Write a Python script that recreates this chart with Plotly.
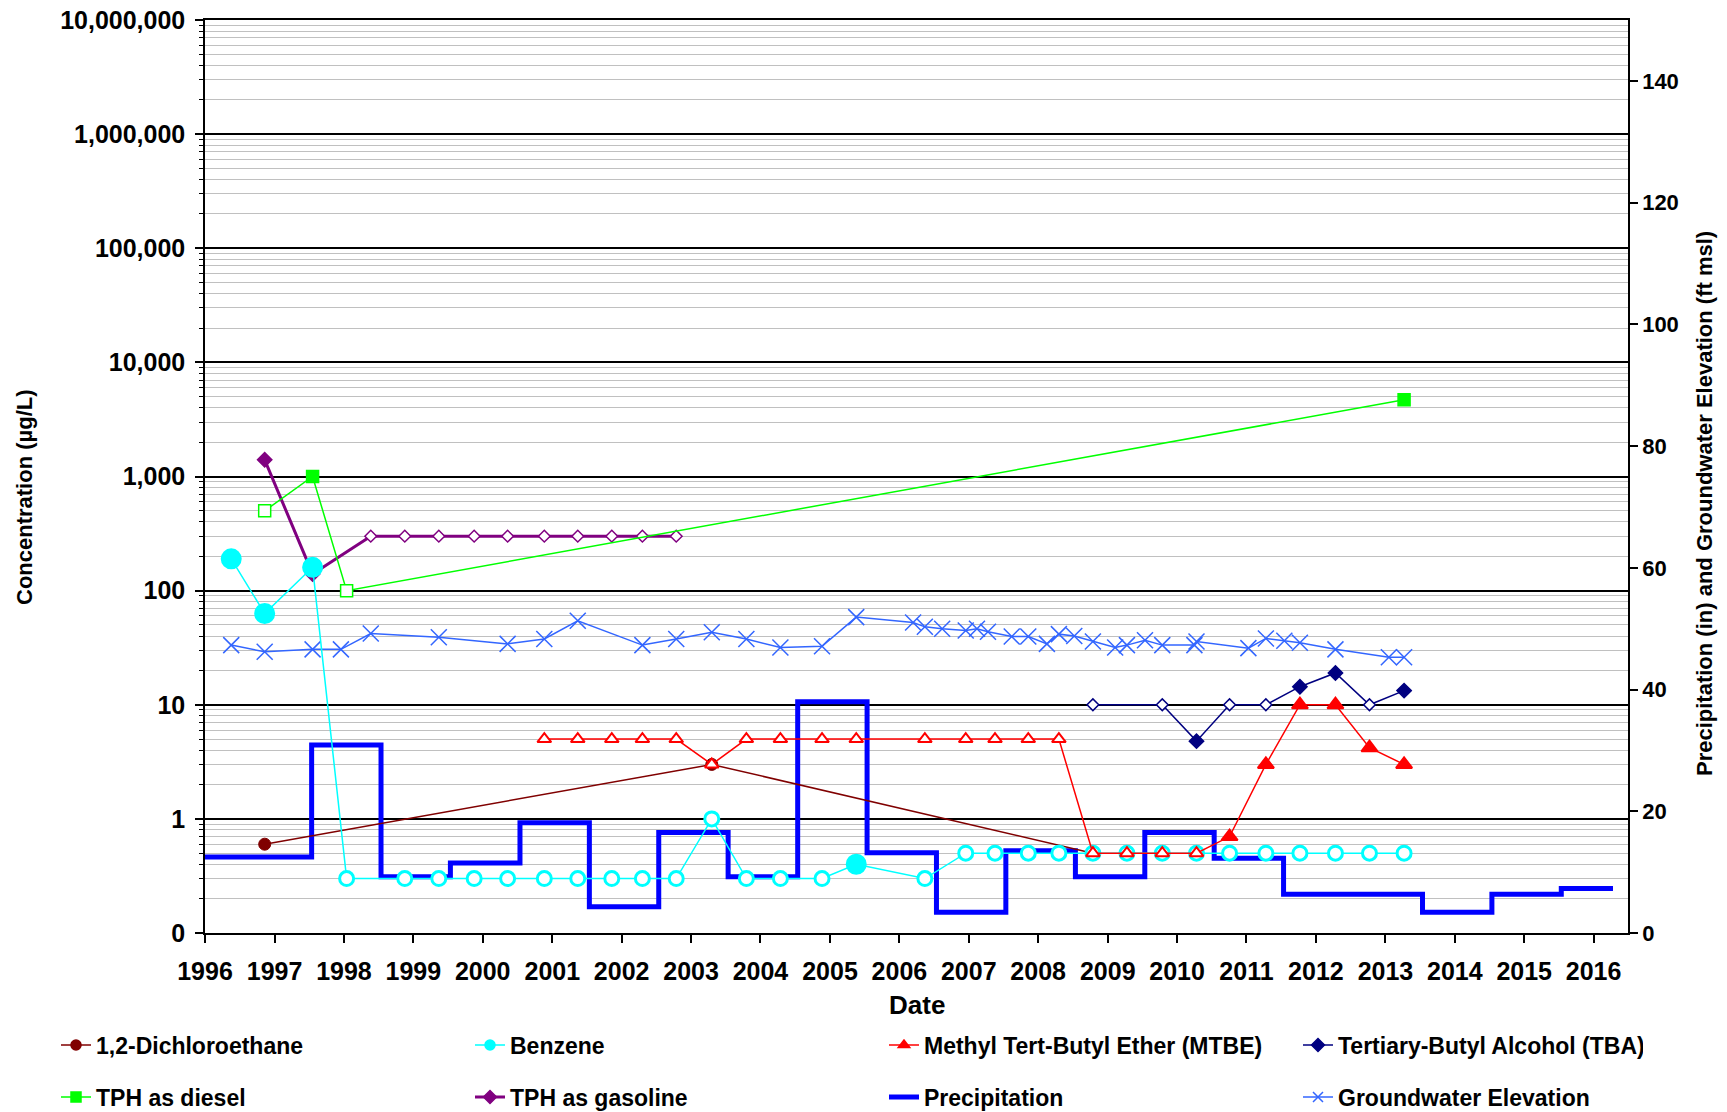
import plotly.graph_objects as go

# ---------------- data ----------------
dca_dates = ['1996-11-10', '2003-04-20', '2008-10-15']
dca_vals = [0.6, 3, 0.5]

benz_dates = ['1996-05-18', '1996-11-10', '1997-07-20', '1998-01-15', '1998-11-17', '1999-05-15',
              '1999-11-17', '2000-05-11', '2000-11-20', '2001-05-15', '2001-11-10', '2002-04-20',
              '2002-10-15', '2003-04-20', '2003-10-19', '2004-04-15', '2004-11-20', '2005-05-19',
              '2006-05-15', '2006-12-16', '2007-05-19', '2007-11-10', '2008-04-19', '2008-10-15',
              '2009-04-12', '2009-10-15', '2010-04-13', '2010-10-04', '2011-04-13', '2011-10-09',
              '2012-04-13', '2012-10-09', '2013-04-09']
benz_vals = [190, 63, 160, 0.3, 0.3, 0.3, 0.3, 0.3, 0.3, 0.3, 0.3, 0.3, 0.3, 1.0, 0.3, 0.3, 0.3, 0.4,
             0.3, 0.5, 0.5, 0.5, 0.5, 0.5, 0.5, 0.5, 0.5, 0.5, 0.5, 0.5, 0.5, 0.5, 0.5]
benz_detected = [True, True, True] + [False] * 14 + [True] + [False] * 15

mtbe_dates = ['2000-11-20', '2001-05-15', '2001-11-10', '2002-04-20', '2002-10-15', '2003-04-20',
              '2003-10-19', '2004-04-15', '2004-11-20', '2005-05-19', '2006-05-15', '2006-12-16',
              '2007-05-19', '2007-11-10', '2008-04-19', '2008-10-15', '2009-04-12', '2009-10-15',
              '2010-04-13', '2010-10-04', '2011-04-13', '2011-10-09', '2012-04-13', '2012-10-09',
              '2013-04-09']
mtbe_vals = [5, 5, 5, 5, 5, 3, 5, 5, 5, 5, 5, 5, 5, 5, 5, 0.5, 0.5, 0.5, 0.5, 0.7, 3, 10, 10, 4.2, 3]
mtbe_detected = [False] * 19 + [True] * 6

tba_dates = ['2008-10-15', '2009-10-15', '2010-04-13', '2010-10-04', '2011-04-13', '2011-10-09',
             '2012-04-13', '2012-10-09', '2013-04-09']
tba_vals = [10, 10, 4.8, 10, 10, 14.4, 19, 10, 13.3]
tba_detected = [False, False, True, False, False, True, True, False, True]

tphd_dates = ['1996-11-10', '1997-07-20', '1998-01-15', '2013-04-09']
tphd_vals = [500, 1000, 100, 4700]
tphd_detected = [False, True, False, True]

tphg_dates = ['1996-11-10', '1997-07-20', '1998-05-22', '1998-11-17', '1999-05-15', '1999-11-17',
              '2000-05-11', '2000-11-20', '2001-05-15', '2001-11-10', '2002-04-20', '2002-10-15']
tphg_vals = [1400, 140, 300, 300, 300, 300, 300, 300, 300, 300, 300, 300]
tphg_detected = [True, True] + [False] * 10

precip_dates = ['1995-07-15', '1996-07-15', '1997-07-15', '1998-07-15', '1999-07-15', '2000-07-15',
                '2001-07-15', '2002-07-15', '2003-07-15', '2004-07-15', '2005-07-15', '2006-07-15',
                '2007-07-15', '2008-07-15', '2009-07-15', '2010-07-15', '2011-07-15', '2012-07-15',
                '2013-07-15', '2014-07-15', '2015-07-15', '2016-04-12']
precip_vals = [12.5, 12.5, 30.9, 9.25, 11.5, 18.1, 4.3, 16.5, 9.25, 38.0, 13.2, 3.4, 13.5, 9.25,
               16.5, 12.3, 6.35, 6.35, 3.4, 6.35, 7.3, 7.3]

gw_dates = ['1996-05-18', '1996-11-10', '1997-07-20', '1997-12-16', '1998-05-22', '1999-05-15',
            '2000-05-11', '2000-11-20', '2001-05-15', '2002-04-20', '2002-10-15', '2003-04-20',
            '2003-10-19', '2004-04-15', '2004-11-20', '2005-05-19', '2006-03-14', '2006-05-15',
            '2006-08-14', '2006-12-16', '2007-02-13', '2007-04-12', '2007-08-15', '2007-11-10',
            '2008-02-16', '2008-04-19', '2008-07-09', '2008-10-15', '2009-02-09', '2009-04-12',
            '2009-07-16', '2009-10-15', '2010-04-02', '2010-04-13', '2011-01-11', '2011-04-13',
            '2011-07-19', '2011-10-09', '2012-04-13', '2013-01-19', '2013-04-09']
gw_vals = [47.3, 46.2, 46.6, 46.6, 49.2, 48.6, 47.5, 48.3, 51.3, 47.3, 48.3, 49.4, 48.3, 46.9, 47.1,
           51.9, 51.0, 50.3, 50.0, 49.7, 50.0, 49.5, 48.7, 48.7, 47.5, 49.1, 48.8, 47.9, 46.9, 47.3,
           48.1, 47.3, 47.3, 47.9, 46.8, 48.4, 48.0, 47.7, 46.6, 45.3, 45.3]

conc_tickvals = [0.1, 1, 10, 100, 1000, 10000, 100000, 1000000, 10000000]
conc_ticktext = ['0', '1', '10', '100', '1,000', '10,000', '100,000', '1,000,000', '10,000,000']
year_range = ['1996-01-01', '2016-06-30']

# ---------------- styles ----------------
FONT = 'Liberation Sans, Arial, sans-serif'
C_DCA, C_BENZ, C_MTBE, C_TBA = '#800000', '#00FFFF', '#FF0000', '#000080'
C_TPHD, C_TPHG, C_PREC, C_GW = '#00FF00', '#800080', '#0000FF', '#3366FF'


def fills(color, flags):
    return [color if f else 'white' for f in flags]


def sizes(flags, filled, hollow):
    return [filled if f else hollow for f in flags]


fig = go.Figure()

# right-axis traces (main y, drawn beneath)
fig.add_trace(go.Scatter(x=precip_dates, y=precip_vals, mode='lines', yaxis='y',
                         line=dict(color=C_PREC, width=5, shape='hv'), showlegend=False))
fig.add_trace(go.Scatter(x=gw_dates, y=gw_vals, mode='lines+markers', yaxis='y',
                         line=dict(color=C_GW, width=1.5),
                         marker=dict(symbol='x-thin', size=16, color=C_GW, opacity=1,
                                     line=dict(color=C_GW, width=1.5)), showlegend=False))

# concentration traces (left log axis, y2)
fig.add_trace(go.Scatter(x=tphg_dates, y=tphg_vals, mode='lines+markers', yaxis='y2',
                         line=dict(color=C_TPHG, width=3),
                         marker=dict(symbol='diamond', size=sizes(tphg_detected, 11, 9), opacity=1,
                                     color=fills(C_TPHG, tphg_detected),
                                     line=dict(color=C_TPHG, width=1.5)), showlegend=False))
fig.add_trace(go.Scatter(x=tphd_dates, y=tphd_vals, mode='lines+markers', yaxis='y2',
                         line=dict(color=C_TPHD, width=1.5),
                         marker=dict(symbol='square', size=12, opacity=1,
                                     color=fills(C_TPHD, tphd_detected),
                                     line=dict(color=C_TPHD, width=1.5)), showlegend=False))
fig.add_trace(go.Scatter(x=dca_dates, y=dca_vals, mode='lines+markers', yaxis='y2',
                         line=dict(color=C_DCA, width=1.5),
                         marker=dict(symbol='circle', size=12, color=C_DCA, opacity=1,
                                     line=dict(color=C_DCA, width=1)), showlegend=False))
fig.add_trace(go.Scatter(x=benz_dates, y=benz_vals, mode='lines+markers', yaxis='y2',
                         line=dict(color=C_BENZ, width=1.5),
                         marker=dict(symbol='circle', size=sizes(benz_detected, 18, 14), opacity=1,
                                     color=fills(C_BENZ, benz_detected),
                                     line=dict(color=C_BENZ, width=3)), showlegend=False))
fig.add_trace(go.Scatter(x=mtbe_dates, y=mtbe_vals, mode='lines+markers', yaxis='y2',
                         line=dict(color=C_MTBE, width=1.5),
                         marker=dict(symbol='triangle-up', size=sizes(mtbe_detected, 14, 12),
                                     opacity=1, color=fills(C_MTBE, mtbe_detected),
                                     line=dict(color=C_MTBE, width=2)), showlegend=False))
fig.add_trace(go.Scatter(x=tba_dates, y=tba_vals, mode='lines+markers', yaxis='y2',
                         line=dict(color=C_TBA, width=1.5),
                         marker=dict(symbol='diamond', size=sizes(tba_detected, 11, 9), opacity=1,
                                     color=fills(C_TBA, tba_detected),
                                     line=dict(color=C_TBA, width=1.5)), showlegend=False))

# legend entries (filled symbols as in the reference legend)
legend_items = [
    ('1,2-Dichloroethane', C_DCA, 'circle', 1.5, 'legend', 1, None),
    ('Benzene', C_BENZ, 'circle', 1.5, 'legend', 2, None),
    ('Methyl Tert-Butyl Ether (MTBE)', C_MTBE, 'triangle-up', 1.5, 'legend', 3, None),
    ('Tertiary-Butyl Alcohol (TBA)', C_TBA, 'diamond', 1.5, 'legend', 4, 300),
    ('TPH as diesel', C_TPHD, 'square', 1.5, 'legend2', 1, None),
    ('TPH as gasoline', C_TPHG, 'diamond', 3, 'legend2', 2, None),
    ('Precipitation', C_PREC, None, 5, 'legend2', 3, None),
    ('Groundwater Elevation', C_GW, 'x-thin', 1.5, 'legend2', 4, 270),
]
for name, col, sym, lw, leg, rank, lwid in legend_items:
    kw = dict(x=[None], y=[None], name=name, legend=leg, legendrank=rank, yaxis='y2',
              line=dict(color=col, width=lw), showlegend=True)
    if sym is None:
        kw['mode'] = 'lines'
    else:
        kw['mode'] = 'lines+markers'
        kw['marker'] = dict(symbol=sym, size=10, color=col, opacity=1,
                            line=dict(color=col, width=1.5))
    if lwid is not None:
        kw['legendwidth'] = lwid
    fig.add_trace(go.Scatter(**kw))

L, R, T, B = 205, 99, 20, 179
W, H = 1727, 1112
pw, ph = W - L - R, H - T - B


def px_x(px):
    return (px - L) / pw


def px_y(py):
    return (H - B - py) / ph


legend_common = dict(orientation='h', xanchor='left', yanchor='middle', entrywidth=369,
                     entrywidthmode='pixels', bgcolor='rgba(0,0,0,0)', borderwidth=0,
                     font=dict(family=FONT, size=23, color='black', weight='bold'))

tickfont = dict(family=FONT, size=25, color='black', weight='bold')
rtickfont = dict(family=FONT, size=22, color='black', weight='bold')
titlefont = dict(family=FONT, size=22, color='black', weight='bold')

annotations = [
    dict(text='Concentration (µg/L)', textangle=-90, x=px_x(24), y=px_y(497), xref='paper',
         yref='paper', xanchor='center', yanchor='middle', showarrow=False, font=titlefont),
    dict(text='Precipitation (in) and Groundwater Elevation (ft msl)', textangle=-90,
         x=px_x(1705), y=px_y(504), xref='paper', yref='paper', xanchor='center',
         yanchor='middle', showarrow=False, font=titlefont),
    dict(text='Date', x=0.5, y=px_y(1004.5), xref='paper', yref='paper', xanchor='center',
         yanchor='middle', showarrow=False,
         font=dict(family=FONT, size=26, color='black', weight='bold')),
]

fig.update_layout(
    width=W, height=H,
    margin=dict(l=L, r=R, t=T, b=B, autoexpand=False),
    paper_bgcolor='white', plot_bgcolor='white',
    font=dict(family=FONT, size=22, color='black', weight='bold'),
    xaxis=dict(type='date', range=year_range, dtick='M12', tick0='1996-01-01', tickformat='%Y',
               ticks='outside', ticklen=8, tickwidth=1.5, tickcolor='black', ticklabelstandoff=7,
               showline=True, linecolor='black', linewidth=1.5, mirror=True,
               showgrid=False, zeroline=False, tickfont=tickfont, automargin=False),
    yaxis=dict(side='right', range=[0, 150], dtick=20, tick0=0, ticks='outside', ticklen=8,
               tickwidth=1.5, tickcolor='black', showline=True, linecolor='black', linewidth=1.5,
               showgrid=False, zeroline=False, tickfont=rtickfont, automargin=False),
    yaxis2=dict(overlaying='y', side='left', type='log', range=[-1, 7],
                tickmode='array', tickvals=conc_tickvals, ticktext=conc_ticktext,
                ticks='outside', ticklen=8, tickwidth=1.5, tickcolor='black', ticklabelstandoff=5,
                showline=True, linecolor='black', linewidth=1.5,
                showgrid=True, gridcolor='black', gridwidth=1.5, zeroline=False,
                minor=dict(dtick='D1', ticks='outside', ticklen=4, tickcolor='black', tickwidth=1,
                           showgrid=True, gridcolor='#C0C0C0', gridwidth=1.2),
                tickfont=tickfont, automargin=False),
    legend=dict(x=px_x(56), y=px_y(1045), **legend_common),
    legend2=dict(x=px_x(56), y=px_y(1097), **legend_common),
    annotations=annotations,
    showlegend=True,
)

fig.write_html('out.html', config={'displayModeBar': False},
               post_script="document.body.style.margin='0px';")
